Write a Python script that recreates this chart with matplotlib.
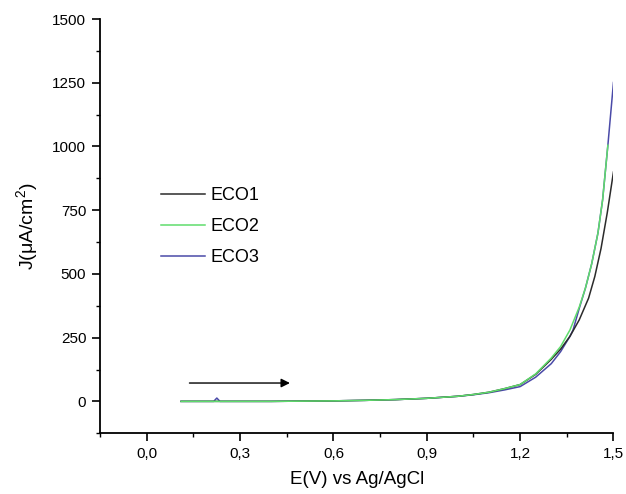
import matplotlib
matplotlib.use("Agg")
import matplotlib.pyplot as plt
from matplotlib.ticker import MultipleLocator, FuncFormatter

plt.rcParams['font.family'] = ['Liberation Sans', 'DejaVu Sans']
plt.rcParams['mathtext.fontset'] = 'custom'
plt.rcParams['mathtext.rm'] = 'Liberation Sans'

# Anodic polarization curves: potential (V vs Ag/AgCl) and current density (uA/cm2)
labels = ["ECO1", "ECO2", "ECO3"]
colors = ["#2b2b2b", "#5fdc6c", "#4a4aa8"]
layers = [2.2, 2.3, 2.1]

e_eco1 = [0.11, 0.2, 0.3, 0.4, 0.5, 0.6, 0.7, 0.8, 0.9, 1.0, 1.05, 1.1, 1.15, 1.2,
          1.25, 1.3, 1.33, 1.36, 1.39, 1.42, 1.44, 1.46, 1.48, 1.5]
j_eco1 = [0, 0, 0, 0, 1, 2, 4, 7, 12, 20, 27, 36, 50, 66,
          106, 165, 205, 255, 320, 405, 490, 600, 740, 900]

e_eco2 = [0.11, 0.2, 0.3, 0.4, 0.5, 0.6, 0.7, 0.8, 0.9, 1.0, 1.05, 1.1, 1.15, 1.2,
          1.25, 1.3, 1.33, 1.36, 1.39, 1.41, 1.43, 1.45, 1.465, 1.482]
j_eco2 = [0, 0, 0, 0, 1, 2, 4, 7, 12, 20, 27, 36, 50, 66,
          108, 170, 215, 280, 370, 445, 540, 660, 790, 1005]

e_eco3 = [0.11, 0.2, 0.215, 0.225, 0.235, 0.3, 0.4, 0.5, 0.6, 0.7, 0.8, 0.9, 1.0, 1.05,
          1.1, 1.15, 1.2, 1.25, 1.3, 1.33, 1.36, 1.37, 1.39, 1.41, 1.43, 1.45,
          1.465, 1.482, 1.5]
j_eco3 = [0, 0, 0, 13, 0, 0, 0, 1, 2, 4, 7, 12, 20, 26,
          34, 45, 58, 95, 148, 195, 255, 280, 365, 445, 540, 660,
          790, 1005, 1251]

x_ticks = [0.0, 0.3, 0.6, 0.9, 1.2, 1.5]
y_ticks = [0, 250, 500, 750, 1000, 1250, 1500]

fig = plt.figure(figsize=(6.26, 4.94), dpi=100)
ax = fig.add_axes([0.160, 0.123, 0.820, 0.8385])

for e, j, lab, c, z in zip([e_eco1, e_eco2, e_eco3], [j_eco1, j_eco2, j_eco3],
                           labels, colors, layers):
    ax.plot(e, j, color=c, lw=1.1, label=lab, zorder=z)

# sweep direction
ax.annotate("", xy=(0.46, 72), xytext=(0.137, 72),
            arrowprops=dict(arrowstyle="-|>", color="black", lw=1.0,
                            mutation_scale=13, shrinkA=0, shrinkB=0))

ax.set_xlim(-0.15, 1.5)
ax.set_ylim(-125, 1500)
ax.set_xticks(x_ticks)
ax.set_yticks(y_ticks)
ax.xaxis.set_minor_locator(MultipleLocator(0.15))
ax.yaxis.set_minor_locator(MultipleLocator(125))
ax.xaxis.set_major_formatter(FuncFormatter(lambda v, p: f"{v:.1f}".replace(".", ",")))

for s in ["top", "right"]:
    ax.spines[s].set_visible(False)
for s in ["left", "bottom"]:
    ax.spines[s].set_linewidth(1.3)

ax.tick_params(which="major", direction="out", length=6, width=1.2,
               labelsize=11, pad=4)
ax.tick_params(which="minor", direction="out", length=3, width=1.0)

ax.set_xlabel("E(V) vs Ag/AgCl", fontsize=13.5, labelpad=7)
ax.set_ylabel("J(μA/cm$^2$)", fontsize=14, labelpad=8)

ax.legend(frameon=False, fontsize=13, loc="upper left",
          bbox_to_anchor=(0.118, 0.594), borderpad=0, borderaxespad=0,
          handlelength=2.45, handletextpad=0.28, labelspacing=0.78)

fig.savefig("out.png", dpi=100)
